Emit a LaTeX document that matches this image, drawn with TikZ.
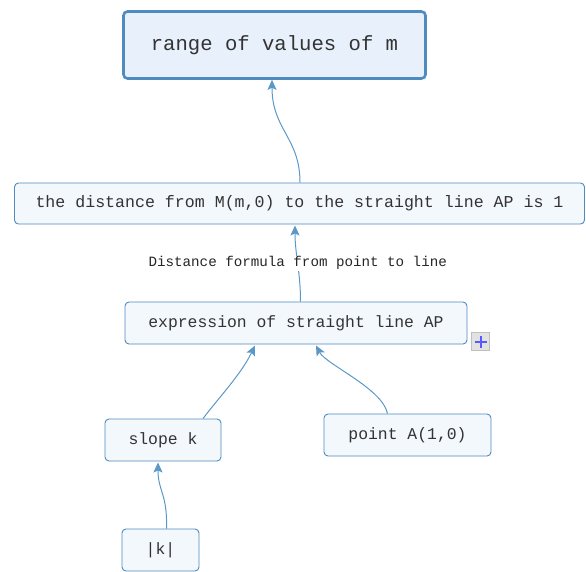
\documentclass[tikz,border=0pt]{standalone}
\usepackage{fontspec}
\setmonofont{Liberation Mono}
\usetikzlibrary{positioning,calc,arrows.meta}
\definecolor{boxline}{HTML}{4E8BBE}
\definecolor{boxfill}{HTML}{F3F8FD}
\definecolor{topfill}{HTML}{E8F1FB}
\definecolor{linkcol}{HTML}{5C98C6}
\definecolor{txtcol}{HTML}{333333}

\begin{document}
\begin{tikzpicture}[x=1pt,y=-1pt,
	box/.style={draw=boxline,fill=boxfill,rounded corners=4pt,line width=0.9pt,text=txtcol,inner sep=0pt},
	link/.style={draw=linkcol,line width=1pt,-{Stealth[length=10pt,width=9pt,inset=2pt]}}]
		\useasboundingbox (0,0) rectangle (586,571);
		\node[box,fill=topfill,line width=2.6pt,minimum width=302pt,minimum height=67pt,font=\fontsize{20.6}{24}\ttfamily] (1) at (274.5,45) {range of values of m};
		\node[box,minimum width=570pt,minimum height=41pt,font=\fontsize{16.6}{20}\ttfamily] (2) at (299.5,203.5) {the distance from M(m,0) to the straight line AP is 1};
		\node[box,minimum width=342pt,minimum height=42pt,font=\fontsize{16.4}{20}\ttfamily] (3) at (296,323) {expression of straight line AP};
		\node[box,minimum width=116pt,minimum height=42pt,font=\fontsize{16.4}{20}\ttfamily] (4) at (163,440) {slope k};
		\node[box,minimum width=167pt,minimum height=42pt,font=\fontsize{16.4}{20}\ttfamily] (5) at (407.5,435) {point A(1,0)};
		\node[box,minimum width=77pt,minimum height=42pt,font=\fontsize{16.4}{20}\ttfamily] (6) at (160.5,550) {|k|};
		\node[draw=black!25,fill=green!8!black!12,minimum size=18pt,inner sep=0pt] (7) at (480.5,341.5) {};
		\draw[blue!65!white,line width=2pt] ([xshift=-6pt]7.center) -- ([xshift=6pt]7.center) ([yshift=-6pt]7.center) -- ([yshift=6pt]7.center);
		\draw[link] ([xshift=0.5pt]2.north) .. controls ([xshift=0.5pt,yshift=45pt]2.north) and ([xshift=-2.5pt,yshift=-50pt]1.south) .. ([xshift=-2.5pt]1.south);
		\draw[link] ([xshift=4.5pt]3.north) .. controls ([xshift=4.5pt,yshift=30pt]3.north) and ([xshift=-4.5pt,yshift=-30pt]2.south) .. ([xshift=-4.5pt,yshift=-1pt]2.south) node[midway,fill=white,inner sep=1pt,text=black!85,font=\fontsize{14.2}{16}\ttfamily] (8) {Distance formula from point to line};
		\draw[link] ([xshift=40pt]4.north) .. controls ([xshift=55pt,yshift=20pt]4.north) and ([xshift=-55pt,yshift=-30pt]3.south) .. ([xshift=-41pt,yshift=-1pt]3.south);
		\draw[link] ([xshift=-20pt]5.north) .. controls ([xshift=-25pt,yshift=25pt]5.north) and ([xshift=30pt,yshift=-20pt]3.south) .. ([xshift=20pt,yshift=-1pt]3.south);
		\draw[link] ([xshift=6pt]6.north) .. controls ([xshift=7pt,yshift=35pt]6.north) and ([xshift=-5pt,yshift=-30pt]4.south) .. ([xshift=-5pt,yshift=-1pt]4.south);
	\end{tikzpicture}
\end{document}
